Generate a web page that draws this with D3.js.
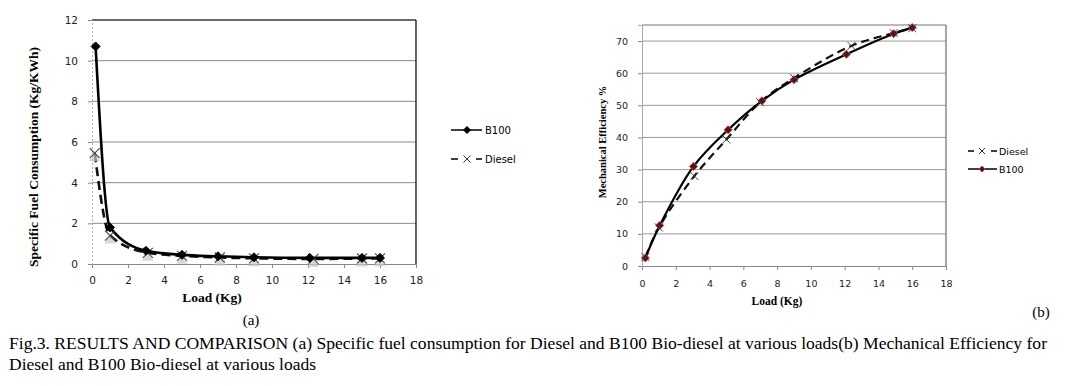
<!DOCTYPE html>
<html>
<head>
<meta charset="utf-8">
<script src="https://cdn.jsdelivr.net/npm/d3@7"></script>
<style>
  body { margin: 0; background: #fff; }
  svg { display: block; }
  .tick text { font-family: "DejaVu Sans", Verdana, sans-serif; }
</style>
</head>
<body>
<div id="viz"></div>
<script>
// ---- data ----
const sfcLoad     = [0.2, 1, 3, 5, 7, 9, 12.1, 15, 16];
const sfcB100     = [10.7, 1.8, 0.65, 0.45, 0.38, 0.33, 0.3, 0.3, 0.3];
const sfcDieselX  = [0.15, 1, 3.1, 5, 7.1, 9, 12.3, 15, 16];
const sfcDiesel   = [5.45, 1.4, 0.55, 0.4, 0.32, 0.28, 0.25, 0.27, 0.28];

const meLoad      = [0.2, 1.05, 3.05, 5.1, 7.1, 9, 12.1, 14.9, 16];
const meB100      = [2.5, 12.6, 31, 42.4, 51.4, 58, 65.9, 72.3, 74.2];
const meDieselX   = [0.2, 1, 3.1, 5, 7, 9, 12.4, 14.9, 16];
const meDiesel    = [2.8, 12, 28, 39.4, 51, 58.5, 68.5, 72.5, 74];

const xTicks   = [0, 2, 4, 6, 8, 10, 12, 14, 16, 18];
const sfcTicks = [0, 2, 4, 6, 8, 10, 12];
const meTicks  = [0, 10, 20, 30, 40, 50, 60, 70];

const captionLines = [
  "Fig.3. RESULTS AND COMPARISON (a) Specific fuel consumption for Diesel and B100 Bio-diesel at various loads(b) Mechanical Efficiency for",
  "Diesel and B100 Bio-diesel at various loads"
];

const svg = d3.select("#viz").append("svg").attr("width", 1084).attr("height", 386);

const serif = "'Liberation Serif', 'Times New Roman', serif";
const sans = "'DejaVu Sans', Verdana, sans-serif";

// marker helpers
function diamond(g, x, y, r, fill, stroke) {
  g.append("path")
    .attr("d", `M${x},${y - r}L${x + r},${y}L${x},${y + r}L${x - r},${y}Z`)
    .attr("fill", fill).attr("stroke", stroke).attr("stroke-width", 1);
}
function cross(g, x, y, r, color, w) {
  g.append("path")
    .attr("d", `M${x - r},${y - r}L${x + r},${y + r}M${x - r},${y + r}L${x + r},${y - r}`)
    .attr("stroke", color).attr("stroke-width", w).attr("fill", "none");
}

function drawPanel(opt) {
  const g = svg.append("g");
  const x = d3.scaleLinear().domain([0, 18]).range([opt.left, opt.right]);
  const y = d3.scaleLinear().domain([0, opt.ymax]).range([opt.bottom, opt.top]);

  // grid
  g.append("g").selectAll("line").data(opt.yTicks.filter(d => d > 0)).join("line")
    .attr("x1", x(0)).attr("x2", x(18))
    .attr("y1", d => y(d)).attr("y2", d => y(d))
    .attr("stroke", opt.gridColor).attr("stroke-width", 1);

  // top + right border
  g.append("line").attr("x1", x(0)).attr("x2", x(18)).attr("y1", y(opt.ymax)).attr("y2", y(opt.ymax))
    .attr("stroke", opt.borderColor).attr("stroke-width", 1);
  g.append("line").attr("x1", x(18)).attr("x2", x(18)).attr("y1", y(opt.ymax)).attr("y2", y(0))
    .attr("stroke", opt.borderColor).attr("stroke-width", 1.3);

  // axes
  const ax = g.append("g").attr("transform", `translate(0,${y(0)})`)
    .call(d3.axisBottom(x).tickValues(xTicks).tickSize(4).tickPadding(opt.xPad).tickFormat(d3.format("d")));
  ax.selectAll("text").attr("font-size", opt.tickFont).attr("fill", "#222");
  ax.selectAll("line,path").attr("stroke", "#888");

  const ay = g.append("g").attr("transform", `translate(${x(0)},0)`)
    .call(d3.axisLeft(y).tickValues(opt.yTicks).tickSize(4).tickPadding(opt.yPad).tickFormat(d3.format("d")));
  ay.selectAll("text").attr("font-size", opt.tickFont).attr("fill", "#222");
  ay.selectAll("line").attr("stroke", "#888");
  ay.select("path").attr("stroke", "#aaa").attr("stroke-dasharray", opt.leftDash);

  // axis titles
  g.append("text").attr("x", opt.xTitle[0]).attr("y", opt.xTitle[1])
    .attr("text-anchor", "middle").attr("font-family", serif).attr("font-weight", "bold")
    .attr("font-size", opt.titleFont).text("Load (Kg)");
  g.append("text").attr("transform", `translate(${opt.yTitle[0]},${opt.yTitle[1]}) rotate(-90)`)
    .attr("text-anchor", "middle").attr("font-family", serif).attr("font-weight", "bold")
    .attr("font-size", opt.yTitleFont).text(opt.yLabel);

  return { g, x, y };
}

// ---------- panel (a) ----------
const A = drawPanel({
  left: 92, right: 416, top: 20, bottom: 264, ymax: 12,
  yTicks: sfcTicks, gridColor: "#8a8a8a", borderColor: "#111",
  tickFont: 10.5, xPad: 9, yPad: 10, leftDash: "2,2",
  xTitle: [212, 302], titleFont: 13.5,
  yTitle: [38, 157], yTitleFont: 13.5, yLabel: "Specific Fuel Consumption (Kg/KWh)"
});

const dieselA = sfcDieselX.map((d, i) => [d, sfcDiesel[i]]);
const b100A = sfcLoad.map((d, i) => [d, sfcB100[i]]);
const lineA = d3.line().x(d => A.x(d[0])).y(d => A.y(d[1])).curve(d3.curveMonotoneX);

A.g.append("path").datum(dieselA).attr("d", lineA)
  .attr("fill", "none").attr("stroke", "#111").attr("stroke-width", 2.6).attr("stroke-dasharray", "9,5");
A.g.append("path").datum(b100A).attr("d", lineA)
  .attr("fill", "none").attr("stroke", "#000").attr("stroke-width", 2.6);
dieselA.forEach(d => {
  A.g.append("path")
    .attr("d", `M${A.x(d[0])},${A.y(d[1])}l-6,8h12z`).attr("fill", "#c8c8c8").attr("opacity", 0.7);
  cross(A.g, A.x(d[0]), A.y(d[1]), 5, "#444", 1.1);
});
b100A.forEach(d => diamond(A.g, A.x(d[0]), A.y(d[1]), 4.5, "#000", "#000"));

// legend (a)
const legA = svg.append("g").attr("font-family", sans).attr("font-size", 10);
legA.append("line").attr("x1", 451).attr("x2", 482).attr("y1", 130).attr("y2", 130).attr("stroke", "#000").attr("stroke-width", 1.5);
diamond(legA, 467, 130, 3.5, "#000", "#000");
legA.append("text").attr("x", 485).attr("y", 134).text("B100");
legA.append("line").attr("x1", 451).attr("x2", 482).attr("y1", 159).attr("y2", 159).attr("stroke", "#000").attr("stroke-width", 1.5).attr("stroke-dasharray", "7,18");
cross(legA, 467, 159, 3.5, "#333", 1);
legA.append("text").attr("x", 485).attr("y", 163).text("Diesel");

// ---------- panel (b) ----------
const B = drawPanel({
  left: 642, right: 946, top: 25, bottom: 266, ymax: 75,
  yTicks: meTicks, gridColor: "#9a9a9a", borderColor: "#777",
  tickFont: 9.5, xPad: 10, yPad: 10, leftDash: null,
  xTitle: [777, 305], titleFont: 11.5,
  yTitle: [606, 142], yTitleFont: 10.5, yLabel: "Mechanical Efficiency %"
});

const dieselB = meDieselX.map((d, i) => [d, meDiesel[i]]);
const b100B = meLoad.map((d, i) => [d, meB100[i]]);
const lineB = d3.line().x(d => B.x(d[0])).y(d => B.y(d[1])).curve(d3.curveCatmullRom.alpha(0.5));

B.g.append("path").datum(dieselB).attr("d", lineB)
  .attr("fill", "none").attr("stroke", "#111").attr("stroke-width", 2.2).attr("stroke-dasharray", "8,5");
B.g.append("path").datum(b100B).attr("d", lineB)
  .attr("fill", "none").attr("stroke", "#000").attr("stroke-width", 2.2);
b100B.forEach(d => diamond(B.g, B.x(d[0]), B.y(d[1]), 4, "#5a1010", "#c04040"));
dieselB.forEach(d => cross(B.g, B.x(d[0]), B.y(d[1]), 4, "#333", 0.9));

// legend (b)
const legB = svg.append("g").attr("font-family", sans).attr("font-size", 9.5);
legB.append("line").attr("x1", 968).attr("x2", 997).attr("y1", 151).attr("y2", 151).attr("stroke", "#000").attr("stroke-width", 1.5).attr("stroke-dasharray", "6,17");
cross(legB, 982, 151, 3, "#333", 1);
legB.append("text").attr("x", 999).attr("y", 154.5).text("Diesel");
legB.append("line").attr("x1", 968).attr("x2", 997).attr("y1", 169).attr("y2", 169).attr("stroke", "#000").attr("stroke-width", 1.5);
diamond(legB, 982, 169, 3, "#5a1010", "#c04040");
legB.append("text").attr("x", 999).attr("y", 172.5).text("B100");

// panel tags + caption
svg.append("text").attr("x", 251).attr("y", 325).attr("text-anchor", "middle")
  .attr("font-family", serif).attr("font-size", 15).text("(a)");
svg.append("text").attr("x", 1041).attr("y", 317).attr("text-anchor", "middle")
  .attr("font-family", serif).attr("font-size", 15).text("(b)");

svg.append("text").attr("x", 9).attr("y", 349)
  .attr("font-family", serif).attr("font-size", 16.5)
  .attr("textLength", 1038).attr("lengthAdjust", "spacingAndGlyphs").text(captionLines[0]);
svg.append("text").attr("x", 9).attr("y", 370)
  .attr("font-family", serif).attr("font-size", 16.5)
  .attr("textLength", 307).attr("lengthAdjust", "spacingAndGlyphs").text(captionLines[1]);
</script>
</body>
</html>
